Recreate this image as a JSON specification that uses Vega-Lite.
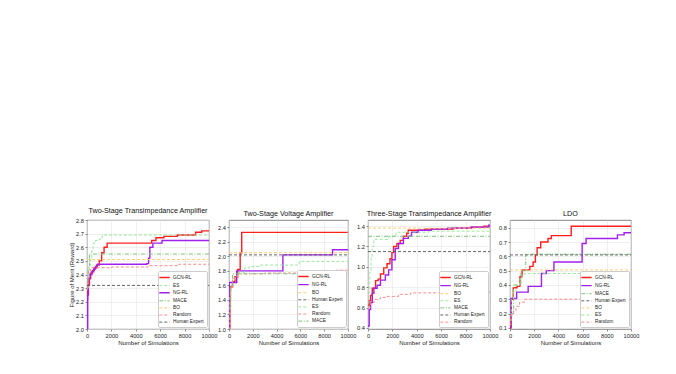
{
  "$schema": "https://vega.github.io/schema/vega-lite/v6.json",
  "padding": {"left": 68, "top": 206, "right": 5, "bottom": 5},
  "bounds": "flush",
  "spacing": 20,
  "config": {
    "font": "Liberation Sans",
    "view": {"stroke": "#666666", "strokeWidth": 0.8},
    "axis": {"labelFontSize": 5.7, "titleFontSize": 6, "labelColor": "#222222", "titleColor": "#222222", "tickSize": 2, "tickColor": "#444444", "tickWidth": 0.6, "domain": false, "gridColor": "#e4e4e4", "gridWidth": 0.6, "labelPadding": 1.5, "titlePadding": 1, "titleFontWeight": "normal", "labelFlush": false, "labelOverlap": false},
    "title": {"fontSize": 7.2, "fontWeight": "normal", "offset": 3, "color": "#111111"},
    "legend": {"orient": "bottom-right", "offset": 2, "padding": 3, "fillColor": "white", "strokeColor": "#cccccc", "cornerRadius": 1.5, "labelFontSize": 4.8, "labelColor": "#222222", "symbolSize": 30, "symbolType": "M-1.9,0L1.9,0", "symbolStrokeWidth": 1.1, "rowPadding": 1.1, "labelOffset": 5, "titleFontSize": 0}
  },
  "resolve": {"scale": {"color": "independent", "strokeDash": "independent", "strokeWidth": "independent"}, "legend": {"color": "independent", "strokeDash": "independent"}},
  "datasets": {
    "p1": [
      {"m": "GCN-RL", "x": 0, "y": 2.22}, {"m": "GCN-RL", "x": 50, "y": 2.28}, {"m": "GCN-RL", "x": 100, "y": 2.32}, {"m": "GCN-RL", "x": 200, "y": 2.37}, {"m": "GCN-RL", "x": 300, "y": 2.41}, {"m": "GCN-RL", "x": 450, "y": 2.43}, {"m": "GCN-RL", "x": 600, "y": 2.45}, {"m": "GCN-RL", "x": 800, "y": 2.47}, {"m": "GCN-RL", "x": 1000, "y": 2.5}, {"m": "GCN-RL", "x": 1200, "y": 2.56}, {"m": "GCN-RL", "x": 1400, "y": 2.6}, {"m": "GCN-RL", "x": 1650, "y": 2.63}, {"m": "GCN-RL", "x": 5300, "y": 2.65}, {"m": "GCN-RL", "x": 5650, "y": 2.67}, {"m": "GCN-RL", "x": 6300, "y": 2.68}, {"m": "GCN-RL", "x": 7400, "y": 2.69}, {"m": "GCN-RL", "x": 8900, "y": 2.71}, {"m": "GCN-RL", "x": 9400, "y": 2.72}, {"m": "GCN-RL", "x": 10000, "y": 2.72},
      {"m": "ES", "x": 0, "y": 2.3}, {"m": "ES", "x": 100, "y": 2.4}, {"m": "ES", "x": 200, "y": 2.47}, {"m": "ES", "x": 300, "y": 2.52}, {"m": "ES", "x": 400, "y": 2.58}, {"m": "ES", "x": 500, "y": 2.63}, {"m": "ES", "x": 700, "y": 2.65}, {"m": "ES", "x": 1000, "y": 2.66}, {"m": "ES", "x": 1250, "y": 2.69}, {"m": "ES", "x": 10000, "y": 2.69},
      {"m": "NG-RL", "x": 0, "y": 2.0}, {"m": "NG-RL", "x": 60, "y": 2.25}, {"m": "NG-RL", "x": 120, "y": 2.37}, {"m": "NG-RL", "x": 250, "y": 2.4}, {"m": "NG-RL", "x": 400, "y": 2.42}, {"m": "NG-RL", "x": 550, "y": 2.44}, {"m": "NG-RL", "x": 700, "y": 2.46}, {"m": "NG-RL", "x": 850, "y": 2.475}, {"m": "NG-RL", "x": 4900, "y": 2.48}, {"m": "NG-RL", "x": 5050, "y": 2.52}, {"m": "NG-RL", "x": 5150, "y": 2.6}, {"m": "NG-RL", "x": 5400, "y": 2.63}, {"m": "NG-RL", "x": 6150, "y": 2.65}, {"m": "NG-RL", "x": 10000, "y": 2.65},
      {"m": "MACE", "x": 0, "y": 2.3}, {"m": "MACE", "x": 100, "y": 2.45}, {"m": "MACE", "x": 200, "y": 2.55}, {"m": "MACE", "x": 10000, "y": 2.55},
      {"m": "BO", "x": 0, "y": 2.51}, {"m": "BO", "x": 10000, "y": 2.51},
      {"m": "Random", "x": 0, "y": 2.3}, {"m": "Random", "x": 100, "y": 2.42}, {"m": "Random", "x": 300, "y": 2.45}, {"m": "Random", "x": 2000, "y": 2.455}, {"m": "Random", "x": 5000, "y": 2.465}, {"m": "Random", "x": 7500, "y": 2.475}, {"m": "Random", "x": 10000, "y": 2.475},
      {"m": "Human Expert", "x": 0, "y": 2.32}, {"m": "Human Expert", "x": 10000, "y": 2.32}
    ],
    "p2": [
      {"m": "GCN-RL", "x": 0, "y": 1.0}, {"m": "GCN-RL", "x": 80, "y": 1.58}, {"m": "GCN-RL", "x": 300, "y": 1.65}, {"m": "GCN-RL", "x": 500, "y": 1.72}, {"m": "GCN-RL", "x": 730, "y": 1.82}, {"m": "GCN-RL", "x": 940, "y": 2.05}, {"m": "GCN-RL", "x": 1070, "y": 2.33}, {"m": "GCN-RL", "x": 10000, "y": 2.33},
      {"m": "NG-RL", "x": 0, "y": 1.0}, {"m": "NG-RL", "x": 30, "y": 1.64}, {"m": "NG-RL", "x": 650, "y": 1.8}, {"m": "NG-RL", "x": 4530, "y": 2.02}, {"m": "NG-RL", "x": 8700, "y": 2.09}, {"m": "NG-RL", "x": 10000, "y": 2.09},
      {"m": "BO", "x": 0, "y": 2.05}, {"m": "BO", "x": 10000, "y": 2.05},
      {"m": "Human Expert", "x": 0, "y": 2.02}, {"m": "Human Expert", "x": 10000, "y": 2.02},
      {"m": "ES", "x": 0, "y": 1.0}, {"m": "ES", "x": 80, "y": 1.45}, {"m": "ES", "x": 150, "y": 1.6}, {"m": "ES", "x": 300, "y": 1.68}, {"m": "ES", "x": 500, "y": 1.73}, {"m": "ES", "x": 760, "y": 1.78}, {"m": "ES", "x": 1300, "y": 1.84}, {"m": "ES", "x": 1700, "y": 1.86}, {"m": "ES", "x": 2500, "y": 1.88}, {"m": "ES", "x": 5900, "y": 1.93}, {"m": "ES", "x": 10000, "y": 1.94},
      {"m": "Random", "x": 0, "y": 1.0}, {"m": "Random", "x": 100, "y": 1.55}, {"m": "Random", "x": 300, "y": 1.7}, {"m": "Random", "x": 700, "y": 1.76}, {"m": "Random", "x": 3000, "y": 1.77}, {"m": "Random", "x": 6000, "y": 1.79}, {"m": "Random", "x": 9000, "y": 1.81}, {"m": "Random", "x": 10000, "y": 1.81},
      {"m": "MACE", "x": 0, "y": 1.3}, {"m": "MACE", "x": 150, "y": 1.6}, {"m": "MACE", "x": 300, "y": 1.76}, {"m": "MACE", "x": 10000, "y": 1.76}
    ],
    "p3": [
      {"m": "GCN-RL", "x": 0, "y": 0.62}, {"m": "GCN-RL", "x": 100, "y": 0.67}, {"m": "GCN-RL", "x": 215, "y": 0.72}, {"m": "GCN-RL", "x": 350, "y": 0.79}, {"m": "GCN-RL", "x": 620, "y": 0.865}, {"m": "GCN-RL", "x": 830, "y": 0.88}, {"m": "GCN-RL", "x": 1020, "y": 0.93}, {"m": "GCN-RL", "x": 1290, "y": 0.99}, {"m": "GCN-RL", "x": 1560, "y": 1.03}, {"m": "GCN-RL", "x": 1800, "y": 1.08}, {"m": "GCN-RL", "x": 1960, "y": 1.14}, {"m": "GCN-RL", "x": 2100, "y": 1.2}, {"m": "GCN-RL", "x": 2370, "y": 1.23}, {"m": "GCN-RL", "x": 2640, "y": 1.26}, {"m": "GCN-RL", "x": 2900, "y": 1.3}, {"m": "GCN-RL", "x": 3170, "y": 1.33}, {"m": "GCN-RL", "x": 3300, "y": 1.36}, {"m": "GCN-RL", "x": 4650, "y": 1.37}, {"m": "GCN-RL", "x": 7000, "y": 1.38}, {"m": "GCN-RL", "x": 8500, "y": 1.39}, {"m": "GCN-RL", "x": 9500, "y": 1.4}, {"m": "GCN-RL", "x": 10000, "y": 1.4},
      {"m": "NG-RL", "x": 0, "y": 0.42}, {"m": "NG-RL", "x": 100, "y": 0.58}, {"m": "NG-RL", "x": 210, "y": 0.65}, {"m": "NG-RL", "x": 350, "y": 0.74}, {"m": "NG-RL", "x": 480, "y": 0.79}, {"m": "NG-RL", "x": 750, "y": 0.82}, {"m": "NG-RL", "x": 1020, "y": 0.87}, {"m": "NG-RL", "x": 1420, "y": 0.92}, {"m": "NG-RL", "x": 1690, "y": 0.97}, {"m": "NG-RL", "x": 1960, "y": 1.07}, {"m": "NG-RL", "x": 2230, "y": 1.18}, {"m": "NG-RL", "x": 2500, "y": 1.23}, {"m": "NG-RL", "x": 2900, "y": 1.28}, {"m": "NG-RL", "x": 3300, "y": 1.3}, {"m": "NG-RL", "x": 3570, "y": 1.34}, {"m": "NG-RL", "x": 4110, "y": 1.36}, {"m": "NG-RL", "x": 5180, "y": 1.37}, {"m": "NG-RL", "x": 6530, "y": 1.38}, {"m": "NG-RL", "x": 8410, "y": 1.39}, {"m": "NG-RL", "x": 9890, "y": 1.41}, {"m": "NG-RL", "x": 10000, "y": 1.41},
      {"m": "BO", "x": 0, "y": 1.38}, {"m": "BO", "x": 10000, "y": 1.38},
      {"m": "ES", "x": 0, "y": 0.6}, {"m": "ES", "x": 80, "y": 0.75}, {"m": "ES", "x": 150, "y": 0.95}, {"m": "ES", "x": 250, "y": 1.1}, {"m": "ES", "x": 350, "y": 1.2}, {"m": "ES", "x": 480, "y": 1.27}, {"m": "ES", "x": 1700, "y": 1.3}, {"m": "ES", "x": 2300, "y": 1.34}, {"m": "ES", "x": 5000, "y": 1.35}, {"m": "ES", "x": 10000, "y": 1.35},
      {"m": "MACE", "x": 0, "y": 1.3}, {"m": "MACE", "x": 10000, "y": 1.3},
      {"m": "Human Expert", "x": 0, "y": 1.15}, {"m": "Human Expert", "x": 10000, "y": 1.15},
      {"m": "Random", "x": 0, "y": 0.6}, {"m": "Random", "x": 200, "y": 0.65}, {"m": "Random", "x": 500, "y": 0.68}, {"m": "Random", "x": 1000, "y": 0.7}, {"m": "Random", "x": 1500, "y": 0.71}, {"m": "Random", "x": 2500, "y": 0.73}, {"m": "Random", "x": 3500, "y": 0.745}, {"m": "Random", "x": 6000, "y": 0.75}, {"m": "Random", "x": 10000, "y": 0.755}
    ],
    "p4": [
      {"m": "GCN-RL", "x": 0, "y": 0.1}, {"m": "GCN-RL", "x": 100, "y": 0.3}, {"m": "GCN-RL", "x": 270, "y": 0.38}, {"m": "GCN-RL", "x": 580, "y": 0.39}, {"m": "GCN-RL", "x": 820, "y": 0.457}, {"m": "GCN-RL", "x": 1000, "y": 0.505}, {"m": "GCN-RL", "x": 1640, "y": 0.53}, {"m": "GCN-RL", "x": 1910, "y": 0.56}, {"m": "GCN-RL", "x": 2100, "y": 0.61}, {"m": "GCN-RL", "x": 2240, "y": 0.66}, {"m": "GCN-RL", "x": 2540, "y": 0.7}, {"m": "GCN-RL", "x": 3140, "y": 0.725}, {"m": "GCN-RL", "x": 3420, "y": 0.745}, {"m": "GCN-RL", "x": 5060, "y": 0.81}, {"m": "GCN-RL", "x": 10000, "y": 0.81},
      {"m": "NG-RL", "x": 0, "y": 0.1}, {"m": "NG-RL", "x": 50, "y": 0.2}, {"m": "NG-RL", "x": 80, "y": 0.305}, {"m": "NG-RL", "x": 550, "y": 0.35}, {"m": "NG-RL", "x": 1500, "y": 0.39}, {"m": "NG-RL", "x": 2600, "y": 0.48}, {"m": "NG-RL", "x": 3000, "y": 0.5}, {"m": "NG-RL", "x": 3630, "y": 0.56}, {"m": "NG-RL", "x": 5960, "y": 0.69}, {"m": "NG-RL", "x": 6290, "y": 0.725}, {"m": "NG-RL", "x": 8880, "y": 0.75}, {"m": "NG-RL", "x": 9430, "y": 0.765}, {"m": "NG-RL", "x": 10000, "y": 0.765},
      {"m": "MACE", "x": 0, "y": 0.2}, {"m": "MACE", "x": 300, "y": 0.4}, {"m": "MACE", "x": 900, "y": 0.5}, {"m": "MACE", "x": 1300, "y": 0.615}, {"m": "MACE", "x": 10000, "y": 0.615},
      {"m": "Human Expert", "x": 0, "y": 0.61}, {"m": "Human Expert", "x": 10000, "y": 0.61},
      {"m": "BO", "x": 0, "y": 0.505}, {"m": "BO", "x": 10000, "y": 0.505},
      {"m": "ES", "x": 0, "y": 0.15}, {"m": "ES", "x": 100, "y": 0.3}, {"m": "ES", "x": 300, "y": 0.35}, {"m": "ES", "x": 500, "y": 0.4}, {"m": "ES", "x": 800, "y": 0.44}, {"m": "ES", "x": 1000, "y": 0.47}, {"m": "ES", "x": 1200, "y": 0.48}, {"m": "ES", "x": 10000, "y": 0.48},
      {"m": "Random", "x": 0, "y": 0.12}, {"m": "Random", "x": 50, "y": 0.19}, {"m": "Random", "x": 300, "y": 0.22}, {"m": "Random", "x": 500, "y": 0.25}, {"m": "Random", "x": 800, "y": 0.28}, {"m": "Random", "x": 1200, "y": 0.3}, {"m": "Random", "x": 10000, "y": 0.3}
    ]
  },
  "hconcat": [
    {
      "width": 122, "height": 109,
      "title": "Two-Stage Transimpedance Amplifier",
      "data": {"name": "p1"},
      "mark": {"type": "line", "interpolate": "step-after", "clip": true},
      "encoding": {
        "x": {"field": "x", "type": "quantitative", "scale": {"domain": [0, 10000], "nice": false}, "axis": {"values": [0, 2000, 4000, 6000, 8000, 10000], "format": "d", "title": "Number of Simulations"}},
        "y": {"field": "y", "type": "quantitative", "scale": {"domain": [2.0, 2.8], "nice": false, "zero": false}, "axis": {"values": [2.0, 2.1, 2.2, 2.3, 2.4, 2.5, 2.6, 2.7, 2.8], "format": ".1f", "title": "Figure of Merit (Reward)"}},
        "color": {"field": "m", "type": "nominal", "scale": {"domain": ["GCN-RL", "ES", "NG-RL", "MACE", "BO", "Random", "Human Expert"], "range": ["#ff1f1f", "#90e890", "#a020f0", "#7cc47c", "#ffc766", "#ff8080", "#555555"]}, "legend": {"title": null}},
        "strokeDash": {"field": "m", "type": "nominal", "scale": {"domain": ["GCN-RL", "ES", "NG-RL", "MACE", "BO", "Random", "Human Expert"], "range": [[1, 0], [3, 2], [1, 0], [4, 1.5, 1, 1.5], [3, 2], [3, 2], [3, 2]]}, "legend": {"title": null}},
        "strokeWidth": {"field": "m", "type": "nominal", "scale": {"type": "ordinal", "domain": ["GCN-RL", "ES", "NG-RL", "MACE", "BO", "Random", "Human Expert"], "range": [1.4, 0.9, 1.4, 1.0, 0.9, 0.9, 0.9]}, "legend": null}
      }
    },
    {
      "width": 119, "height": 109,
      "title": "Two-Stage Voltage Amplifier",
      "data": {"name": "p2"},
      "mark": {"type": "line", "interpolate": "step-after", "clip": true},
      "encoding": {
        "x": {"field": "x", "type": "quantitative", "scale": {"domain": [0, 10000], "nice": false}, "axis": {"values": [0, 2000, 4000, 6000, 8000, 10000], "format": "d", "title": "Number of Simulations"}},
        "y": {"field": "y", "type": "quantitative", "scale": {"domain": [1.0, 2.5], "nice": false, "zero": false}, "axis": {"values": [1.0, 1.2, 1.4, 1.6, 1.8, 2.0, 2.2, 2.4], "format": ".1f", "title": null}},
        "color": {"field": "m", "type": "nominal", "scale": {"domain": ["GCN-RL", "NG-RL", "BO", "Human Expert", "ES", "Random", "MACE"], "range": ["#ff1f1f", "#a020f0", "#ffc766", "#555555", "#90e890", "#ff8080", "#7cc47c"]}, "legend": {"title": null}},
        "strokeDash": {"field": "m", "type": "nominal", "scale": {"domain": ["GCN-RL", "NG-RL", "BO", "Human Expert", "ES", "Random", "MACE"], "range": [[1, 0], [1, 0], [3, 2], [3, 2], [3, 2], [3, 2], [4, 1.5, 1, 1.5]]}, "legend": {"title": null}},
        "strokeWidth": {"field": "m", "type": "nominal", "scale": {"type": "ordinal", "domain": ["GCN-RL", "NG-RL", "BO", "Human Expert", "ES", "Random", "MACE"], "range": [1.4, 1.4, 0.9, 0.9, 0.9, 0.9, 1.0]}, "legend": null}
      }
    },
    {
      "width": 122, "height": 109,
      "title": "Three-Stage Transimpedance Amplifier",
      "data": {"name": "p3"},
      "mark": {"type": "line", "interpolate": "step-after", "clip": true},
      "encoding": {
        "x": {"field": "x", "type": "quantitative", "scale": {"domain": [0, 10000], "nice": false}, "axis": {"values": [0, 2000, 4000, 6000, 8000, 10000], "format": "d", "title": "Number of Simulations"}},
        "y": {"field": "y", "type": "quantitative", "scale": {"domain": [0.39, 1.46], "nice": false, "zero": false}, "axis": {"values": [0.4, 0.6, 0.8, 1.0, 1.2, 1.4], "format": ".1f", "title": null}},
        "color": {"field": "m", "type": "nominal", "scale": {"domain": ["GCN-RL", "NG-RL", "BO", "ES", "MACE", "Human Expert", "Random"], "range": ["#ff1f1f", "#a020f0", "#ffc766", "#90e890", "#7cc47c", "#555555", "#ff8080"]}, "legend": {"title": null}},
        "strokeDash": {"field": "m", "type": "nominal", "scale": {"domain": ["GCN-RL", "NG-RL", "BO", "ES", "MACE", "Human Expert", "Random"], "range": [[1, 0], [1, 0], [3, 2], [3, 2], [4, 1.5, 1, 1.5], [3, 2], [3, 2]]}, "legend": {"title": null}},
        "strokeWidth": {"field": "m", "type": "nominal", "scale": {"type": "ordinal", "domain": ["GCN-RL", "NG-RL", "BO", "ES", "MACE", "Human Expert", "Random"], "range": [1.4, 1.4, 0.9, 0.9, 1.0, 0.9, 0.9]}, "legend": null}
      }
    },
    {
      "width": 121, "height": 109,
      "title": "LDO",
      "data": {"name": "p4"},
      "mark": {"type": "line", "interpolate": "step-after", "clip": true},
      "encoding": {
        "x": {"field": "x", "type": "quantitative", "scale": {"domain": [0, 10000], "nice": false}, "axis": {"values": [0, 2000, 4000, 6000, 8000, 10000], "format": "d", "title": "Number of Simulations"}},
        "y": {"field": "y", "type": "quantitative", "scale": {"domain": [0.092, 0.854], "nice": false, "zero": false}, "axis": {"values": [0.1, 0.2, 0.3, 0.4, 0.5, 0.6, 0.7, 0.8], "format": ".1f", "title": null}},
        "color": {"field": "m", "type": "nominal", "scale": {"domain": ["GCN-RL", "NG-RL", "MACE", "Human Expert", "BO", "ES", "Random"], "range": ["#ff1f1f", "#a020f0", "#7cc47c", "#555555", "#ffc766", "#90e890", "#ff8080"]}, "legend": {"title": null}},
        "strokeDash": {"field": "m", "type": "nominal", "scale": {"domain": ["GCN-RL", "NG-RL", "MACE", "Human Expert", "BO", "ES", "Random"], "range": [[1, 0], [1, 0], [4, 1.5, 1, 1.5], [3, 2], [3, 2], [3, 2], [3, 2]]}, "legend": {"title": null}},
        "strokeWidth": {"field": "m", "type": "nominal", "scale": {"type": "ordinal", "domain": ["GCN-RL", "NG-RL", "MACE", "Human Expert", "BO", "ES", "Random"], "range": [1.4, 1.4, 1.0, 0.9, 0.9, 0.9, 0.9]}, "legend": null}
      }
    }
  ]
}
